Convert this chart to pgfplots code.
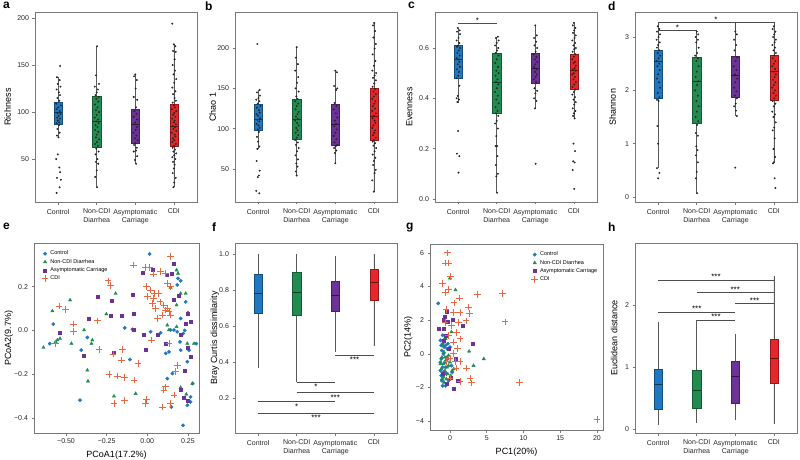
\documentclass[border=0pt]{standalone}
\usepackage{fontspec}
\setmainfont{Liberation Sans}
\usepackage{pgfplots}
\pgfplotsset{compat=1.18}
\usepgfplotslibrary{statistics}
\definecolor{cblue}{RGB}{31,120,193}
\definecolor{cgreen}{RGB}{32,140,80}
\definecolor{cpurple}{RGB}{108,50,150}
\definecolor{cred}{RGB}{230,38,40}
\definecolor{corange}{RGB}{230,105,65}
\definecolor{cfgray}{RGB}{120,120,120}

\tikzset{sig/.style={draw=black!70, line width=0.6pt}}
\pgfplotsset{
  panel/.style={
    scale only axis, anchor=north west,
    axis line style={cfgray, line width=0.7pt},
    tick style={cfgray, line width=0.6pt},
    major tick length=2.5pt,
    tick align=outside,
    xtick pos=left, ytick pos=left,
    ticklabel style={font=\fontsize{7}{8.5}\selectfont, text=black!85},
    label style={font=\fontsize{9}{10}\selectfont},
    clip=false,
  },
  ylab/.style={ylabel style={at={(axis description cs:#1,0.5)}, anchor=south, rotate=0}},
  boxpanel/.style={panel, width=162pt, height=190pt, xmin=0.4, xmax=4.6,
    xtick={1,2,3,4},
    xticklabels={Control, Non-CDI\\Diarrhea, Asymptomatic\\Carriage, CDI},
    xticklabel style={align=center, anchor=north, yshift=-1pt},
    boxplot/draw direction=y,
    boxplot/box extend=0.21,
    boxplot/whisker extend=0,
  },
  cbox/.style={draw=#1!65!black, line width=0.5pt, fill=#1,
    boxplot/every median/.style={draw=#1!45!black, line width=0.9pt},
    boxplot/every whisker/.style={draw=black!65, line width=0.6pt}},
  dots/.style={only marks, mark=*, mark size=0.75pt, color=black!85},
  pctrl/.style={only marks, mark=*, mark size=1.7pt, color=cblue},
  pnon/.style={only marks, mark=triangle*, mark size=1.9pt, color=cgreen},
  pasy/.style={only marks, mark=square*, mark size=1.5pt, color=cpurple},
  pcdi/.style={only marks, mark=+, mark size=3.3pt, color=corange, line width=0.85pt},
}
\newcommand{\bp}[7]{\addplot[cbox=#1, boxplot prepared={draw position=#2, lower whisker=#3, lower quartile=#4, median=#5, upper quartile=#6, upper whisker=#7}] coordinates {};}
\newcommand{\plab}[3]{\node[anchor=north west, inner sep=0pt, font=\bfseries\fontsize{12}{12}\selectfont] at (#1pt,#2pt) {#3};}

\begin{document}
\begin{tikzpicture}
\path[use as bounding box] (0pt,0pt) rectangle (800pt,459pt);

% ---------------- a
\begin{axis}[boxpanel, at={(35pt,447pt)}, ymin=4.3, ymax=206.4,
  ytick={50,100,150,200}, yticklabels={50,100,150,200}, ylabel={Richness}, ylab=-0.127]
\bp{cblue}{1}{72}{87}{100}{110}{137}
\bp{cgreen}{2}{20}{63}{90}{117}{170}
\bp{cpurple}{3}{45}{67}{87}{103}{140}
\bp{cred}{4}{20}{64}{85}{108}{172}
\addplot[dots] coordinates {
(1.05,149)(0.97,137)(1.04,134)(0.99,130)(1.06,127)(0.96,124)(1.02,121)(1.05,118)(0.98,115)(1.03,112)(0.95,109)(1.07,107)(1.00,105)(0.96,103)(1.04,101)(0.98,99)(1.06,98)(1.01,96)(0.97,94)(1.05,93)(0.99,91)(1.03,89)(0.96,88)(1.02,86)(0.98,82)(1.04,78)(0.97,75)(1.01,73)(0.99,55)(0.95,50)(1.03,41)(1.05,36)(0.97,30)(1.07,28)(1.04,20)(0.96,14)
(2.01,170)(1.98,139)(2.06,130)(1.95,127)(2.03,124)(2.00,121)(1.97,118)(2.05,116)(1.99,114)(2.04,111)(1.96,108)(2.02,105)(1.98,102)(2.06,100)(2.00,97)(1.95,94)(2.03,92)(1.99,90)(2.05,88)(1.97,86)(2.02,84)(1.96,81)(2.04,79)(2.00,76)(1.98,73)(2.06,71)(2.01,68)(1.96,66)(2.03,64)(1.99,61)(2.05,58)(1.97,55)(2.02,50)(1.98,47)(2.04,45)(2.00,38)(1.96,31)(2.01,20)
(3.00,140)(2.97,138)(3.04,134)(3.01,125)(2.96,116)(3.05,113)(3.02,105)(2.98,101)(3.03,98)(2.96,95)(3.05,92)(3.00,89)(2.97,87)(3.04,84)(3.01,81)(2.95,78)(3.03,75)(2.99,72)(3.06,70)(3.00,67)(2.97,65)(3.04,62)(3.02,59)(2.96,58)(3.05,53)(2.99,49)(3.02,45)
(3.96,194)(4.00,172)(4.04,170)(3.98,165)(4.05,164)(4.02,156)(3.97,150)(4.03,144)(3.99,140)(4.06,135)(4.01,131)(3.96,126)(4.04,122)(3.98,119)(4.02,115)(4.05,112)(3.97,110)(4.00,107)(4.03,105)(3.95,103)(4.06,101)(4.01,99)(3.98,97)(4.04,95)(3.96,93)(4.02,91)(4.00,89)(4.05,87)(3.97,85)(4.03,84)(3.99,82)(4.06,80)(3.95,78)(4.02,76)(4.04,74)(3.98,72)(4.01,70)(3.96,68)(4.05,66)(4.00,64)(3.97,62)(4.03,60)(3.99,58)(4.06,56)(4.01,54)(3.96,52)(4.04,50)(3.98,47)(4.02,44)(4.00,40)(3.97,35)(4.05,30)(4.01,25)(3.99,20)
};
\end{axis}

% ---------------- b
\begin{axis}[boxpanel, at={(235pt,447pt)}, ymin=9.2, ymax=244.6,
  ytick={50,100,150,200}, yticklabels={50,100,150,200}, ylabel={Chao 1}, ylab=-0.096]
\bp{cblue}{1}{75}{98}{112}{130}{148}
\bp{cgreen}{2}{42}{87}{112}{137}{201}
\bp{cpurple}{3}{57}{79}{105}{130}{172}
\bp{cred}{4}{22}{86}{115}{150}{231}
\addplot[dots] coordinates {
(0.98,205)(1.04,148)(0.97,145)(1.05,141)(1.01,138)(0.95,136)(1.03,134)(0.99,131)(1.06,128)(0.97,126)(1.02,123)(1.04,120)(0.96,118)(1.00,116)(1.05,113)(0.98,111)(1.03,109)(0.96,106)(1.01,104)(1.04,101)(0.99,99)(1.02,96)(0.97,90)(1.00,84)(1.03,78)(0.98,75)(0.96,60)(1.04,48)(1.02,42)(0.99,40)(0.95,23)(1.03,20)
(2.00,201)(1.98,188)(2.03,180)(1.96,172)(2.04,164)(2.01,157)(1.97,150)(2.05,146)(1.99,140)(2.02,137)(1.96,134)(2.04,131)(2.00,128)(1.97,124)(2.05,121)(2.02,118)(1.98,115)(2.03,112)(1.96,110)(2.01,107)(2.05,104)(1.99,101)(2.02,98)(1.97,95)(2.04,92)(2.00,89)(1.96,86)(2.03,83)(1.98,80)(2.05,76)(2.01,72)(1.97,67)(2.03,62)(1.99,57)(2.02,53)(1.98,47)(2.00,42)
(3.00,172)(3.04,170)(2.97,153)(3.05,150)(3.02,148)(2.98,132)(3.03,128)(2.96,124)(3.01,119)(3.05,114)(2.99,110)(3.02,106)(2.97,103)(3.04,99)(3.00,95)(2.96,91)(3.03,87)(2.98,83)(3.05,80)(3.01,78)(2.97,76)(3.03,73)(2.99,70)(3.00,57)
(4.01,231)(3.98,228)(4.03,221)(3.99,213)(4.05,205)(4.02,199)(3.97,192)(4.04,184)(4.00,178)(3.96,172)(4.06,169)(4.02,166)(3.98,163)(4.05,160)(4.01,156)(3.97,152)(4.03,149)(3.99,146)(4.05,143)(4.00,140)(3.96,137)(4.04,134)(4.01,131)(3.98,128)(4.03,125)(3.96,122)(4.05,119)(4.00,116)(3.97,113)(4.02,110)(4.04,107)(3.99,104)(3.96,101)(4.03,98)(4.01,95)(3.98,92)(4.05,89)(4.00,86)(3.97,84)(4.03,82)(3.99,79)(4.06,76)(4.02,72)(3.97,68)(4.04,64)(4.00,60)(3.98,55)(4.05,49)(4.02,45)(3.96,36)(4.00,22)
};
\end{axis}

% ---------------- c
\begin{axis}[boxpanel, at={(435pt,447pt)}, ymin=-0.012, ymax=0.743,
  ytick={0,0.2,0.4,0.6}, yticklabels={0.0,0.2,0.4,0.6}, ylabel={Evenness}, ylab=-0.117]
\bp{cblue}{1}{0.38}{0.48}{0.555}{0.61}{0.68}
\bp{cgreen}{2}{0.025}{0.34}{0.465}{0.58}{0.645}
\bp{cpurple}{3}{0.36}{0.46}{0.52}{0.58}{0.69}
\bp{cred}{4}{0.32}{0.435}{0.51}{0.575}{0.70}
\addplot[dots] coordinates {
(0.99,0.68)(1.04,0.67)(0.97,0.665)(1.05,0.655)(1.01,0.64)(0.96,0.63)(1.03,0.62)(1.00,0.61)(0.97,0.605)(1.05,0.60)(1.02,0.59)(0.98,0.58)(1.04,0.57)(0.96,0.56)(1.01,0.555)(1.03,0.545)(0.99,0.535)(1.05,0.525)(0.97,0.515)(1.02,0.505)(1.00,0.49)(0.96,0.48)(1.03,0.45)(0.99,0.41)(0.96,0.40)(1.02,0.395)(0.98,0.385)(1.00,0.27)(0.97,0.18)(1.03,0.17)(1.01,0.105)
(2.03,0.645)(1.98,0.64)(2.05,0.63)(2.00,0.62)(1.96,0.61)(2.04,0.60)(2.01,0.59)(1.97,0.58)(2.05,0.57)(2.00,0.555)(1.96,0.54)(2.03,0.525)(1.99,0.51)(2.05,0.50)(1.97,0.49)(2.02,0.475)(1.98,0.465)(2.04,0.455)(2.00,0.44)(1.96,0.425)(2.03,0.41)(1.99,0.395)(2.05,0.38)(1.97,0.365)(2.02,0.35)(1.98,0.34)(2.04,0.33)(2.00,0.31)(1.96,0.30)(2.03,0.28)(1.99,0.25)(2.01,0.21)(1.97,0.21)(2.02,0.17)(1.98,0.135)(2.03,0.10)(1.99,0.09)(2.01,0.025)
(3.00,0.69)(3.04,0.65)(2.97,0.64)(3.02,0.625)(2.98,0.61)(3.05,0.60)(3.01,0.585)(2.96,0.575)(3.03,0.565)(2.99,0.555)(3.05,0.545)(3.00,0.535)(2.97,0.525)(3.03,0.515)(2.99,0.505)(3.04,0.495)(3.01,0.485)(2.96,0.475)(3.02,0.465)(2.98,0.44)(3.05,0.43)(3.00,0.42)(2.97,0.40)(3.03,0.39)(2.99,0.36)(3.01,0.14)
(4.00,0.70)(3.97,0.69)(4.04,0.68)(4.01,0.67)(3.98,0.66)(4.05,0.65)(4.02,0.64)(3.96,0.63)(4.03,0.62)(3.99,0.61)(4.05,0.60)(4.01,0.595)(3.97,0.585)(4.04,0.575)(4.00,0.565)(3.96,0.555)(4.03,0.545)(3.99,0.54)(4.05,0.53)(4.02,0.52)(3.98,0.515)(4.04,0.51)(4.00,0.50)(3.96,0.495)(4.03,0.485)(3.99,0.475)(4.05,0.465)(4.01,0.455)(3.97,0.445)(4.04,0.435)(4.00,0.425)(3.96,0.415)(4.03,0.405)(3.99,0.395)(4.05,0.385)(4.01,0.375)(3.97,0.36)(4.04,0.35)(4.00,0.34)(3.98,0.33)(4.02,0.32)(3.99,0.22)(4.03,0.19)(3.98,0.15)(4.02,0.145)(3.97,0.115)(4.01,0.04)
};
\draw[sig] (axis cs:1,0.698) -- (axis cs:2,0.698);
\node[anchor=south, inner sep=0pt, font=\fontsize{8}{8}\selectfont] at (axis cs:1.5,0.698) {*};
\end{axis}

% ---------------- d
\begin{axis}[boxpanel, at={(635pt,447pt)}, ymin=-0.094, ymax=3.469,
  ytick={0,1,2,3}, yticklabels={0,1,2,3}, ylabel={Shannon}, ylab=-0.096]
\bp{cblue}{1}{0.54}{1.85}{2.55}{2.75}{3.2}
\bp{cgreen}{2}{0.07}{1.38}{2.17}{2.62}{3.1}
\bp{cpurple}{3}{1.52}{1.87}{2.27}{2.63}{3.1}
\bp{cred}{4}{0.63}{1.82}{2.35}{2.65}{3.2}
\addplot[dots] coordinates {
(0.99,3.2)(1.03,3.15)(0.97,3.1)(1.05,3.05)(1.01,3.0)(0.96,2.95)(1.04,2.9)(1.00,2.85)(0.97,2.8)(1.03,2.75)(0.99,2.7)(1.05,2.65)(1.01,2.6)(0.96,2.55)(1.03,2.5)(0.98,2.45)(1.04,2.38)(1.00,2.3)(0.97,2.22)(1.02,2.15)(1.05,2.05)(0.99,1.95)(1.03,1.87)(0.97,1.82)(1.01,1.8)(0.98,1.33)(1.00,1.0)(0.97,0.54)(1.03,0.45)(1.00,0.35)
(2.00,3.1)(2.04,3.05)(1.97,3.0)(2.03,2.95)(1.99,2.9)(2.05,2.8)(2.01,2.7)(1.96,2.65)(2.03,2.6)(1.99,2.55)(2.05,2.45)(2.00,2.35)(1.97,2.25)(2.04,2.17)(2.01,2.1)(1.96,2.0)(2.03,1.9)(1.99,1.8)(2.05,1.7)(2.00,1.6)(1.97,1.5)(2.04,1.42)(2.01,1.35)(1.98,1.2)(2.03,1.15)(1.99,0.95)(2.02,0.88)(1.98,0.78)(2.03,0.65)(2.00,0.47)(1.98,0.35)(2.01,0.07)
(3.00,3.1)(3.04,3.05)(2.97,2.95)(3.02,2.85)(2.98,2.75)(3.05,2.62)(3.01,2.55)(2.96,2.45)(3.03,2.38)(2.99,2.3)(3.05,2.22)(3.00,2.15)(2.97,2.05)(3.03,1.98)(2.99,1.9)(3.04,1.85)(3.01,1.75)(2.97,1.7)(3.02,1.62)(3.04,1.52)(3.00,0.55)
(4.00,3.2)(3.97,3.15)(4.04,3.1)(4.01,3.05)(3.98,3.0)(4.05,2.95)(4.02,2.9)(3.96,2.85)(4.03,2.8)(3.99,2.75)(4.05,2.7)(4.01,2.65)(3.97,2.6)(4.04,2.55)(4.00,2.5)(3.96,2.45)(4.03,2.4)(3.99,2.35)(4.05,2.3)(4.02,2.25)(3.98,2.2)(4.04,2.15)(4.00,2.1)(3.96,2.05)(4.03,2.0)(3.99,1.95)(4.05,1.9)(4.01,1.85)(3.97,1.8)(4.04,1.75)(4.00,1.7)(3.96,1.6)(4.03,1.55)(3.99,1.5)(4.05,1.4)(4.01,1.3)(3.97,1.25)(4.02,1.1)(3.99,0.9)(4.03,0.75)(4.00,0.65)(3.98,0.63)(4.02,0.35)(4.04,0.17)
};
\draw[sig] (axis cs:1,3.05) -- (axis cs:1,3.12) -- (axis cs:2,3.12) -- (axis cs:2,3.05);
\draw[sig] (axis cs:1,3.2) -- (axis cs:1,3.27) -- (axis cs:4,3.27) -- (axis cs:4,3.2);
\draw[sig] (axis cs:3,3.1) -- (axis cs:3,3.27);
\node[anchor=south, inner sep=0pt, font=\fontsize{8}{8}\selectfont] at (axis cs:1.5,3.12) {*};
\node[anchor=south, inner sep=0pt, font=\fontsize{8}{8}\selectfont] at (axis cs:2.5,3.27) {*};
\end{axis}

% ---------------- e
\begin{axis}[panel, at={(34pt,216pt)}, width=165pt, height=190pt,
  xmin=-0.697, xmax=0.318, ymin=-0.469, ymax=0.40,
  xtick={-0.5,-0.25,0,0.25}, xticklabels={−0.50,−0.25,0.00,0.25},
  ytick={-0.4,-0.2,0,0.2}, yticklabels={−0.4,−0.2,0.0,0.2},
  xlabel={PCoA1(17.2\%)}, ylabel={PCoA2(9.7\%)}, ylab=-0.106,
  legend style={at={(0.04,0.975)}, anchor=north west, draw=none, fill=none,
    font=\fontsize{5.5}{6.5}\selectfont, row sep=-1.2pt, inner sep=1pt},
  legend cell align=left]
\addplot[pctrl] coordinates {
(0.014,0.350)(-0.578,0.029)(-0.600,-0.060)(-0.406,-0.090)(-0.369,-0.032)(-0.414,-0.319)(-0.139,0.012)(-0.092,0.005)(0.020,-0.006)(-0.107,-0.133)(0.184,0.208)(0.189,0.238)(0.205,0.227)(0.236,0.131)(0.250,0.081)(0.205,0.055)(0.164,0.002)(0.184,-0.006)(0.221,-0.014)(0.201,-0.052)(0.256,-0.090)(0.301,-0.060)(0.205,-0.090)(0.246,-0.143)(0.113,-0.105)(0.133,-0.098)(0.154,-0.197)(0.123,-0.220)(0.148,-0.350)(0.219,-0.434)(0.246,-0.342)(0.266,-0.327)(0.279,-0.243)(0.266,-0.304)(0.143,0.002)(0.230,0.000)(0.082,-0.011)
};
\addlegendentry{Control}
\addplot[pnon] coordinates {
(-0.475,0.139)(-0.584,0.089)(-0.639,-0.078)(-0.553,-0.044)(-0.564,-0.052)(-0.537,-0.037)(-0.467,-0.060)(-0.389,0.002)(-0.338,-0.044)(-0.344,-0.060)(-0.252,0.075)(-0.195,0.169)(-0.369,-0.182)(-0.365,-0.232)(-0.205,-0.301)(-0.072,-0.289)(0.180,0.276)(0.189,0.261)(0.143,0.197)(0.205,0.169)(0.236,0.169)(0.180,0.116)(0.123,0.024)(0.133,0.002)(0.180,0.017)(0.246,-0.060)(0.287,-0.060)(0.205,-0.261)(0.240,-0.292)(0.277,-0.243)
};
\addlegendentry{Non-CDI Diarrhea}
\addplot[pasy] coordinates {
(-0.537,-0.011)(-0.389,-0.115)(-0.303,0.154)(-0.359,0.055)(-0.225,0.066)(-0.221,0.136)(-0.158,0.066)(-0.090,0.162)(-0.082,0.078)(-0.082,0.002)(-0.025,-0.021)(-0.010,-0.090)(-0.209,-0.102)(-0.031,0.264)(0.061,-0.021)(0.164,0.307)(0.119,0.253)(0.148,0.261)(0.164,0.139)(0.191,0.157)(0.246,0.078)(0.266,0.040)(0.236,0.032)(0.205,-0.021)(0.250,-0.078)(0.266,-0.118)(0.230,-0.185)(0.221,-0.307)(0.246,-0.319)(0.205,-0.273)(0.113,-0.060)(0.035,0.276)
};
\addlegendentry{Asymptomatic Carriage}
\addplot[pcdi] coordinates {
(0.143,0.337)(-0.086,0.299)(-0.010,0.289)(0.016,0.289)(0.037,0.258)(0.082,0.269)(0.113,0.261)(-0.242,0.227)(-0.225,0.206)(-0.543,0.111)(-0.502,0.096)(-0.455,0.029)(-0.455,-0.006)(-0.564,-0.060)(-0.307,0.044)(-0.297,-0.087)(-0.211,-0.108)(-0.154,-0.087)(-0.160,-0.136)(-0.057,-0.151)(-0.236,-0.202)(-0.184,-0.209)(-0.139,-0.215)(-0.082,-0.227)(-0.205,-0.334)(-0.139,-0.319)(-0.004,-0.316)(-0.010,-0.334)(0.025,-0.044)(-0.004,0.200)(0.020,0.185)(0.045,0.169)(0.000,0.154)(0.037,0.147)(0.068,0.169)(0.078,0.131)(0.102,0.116)(0.123,0.101)(0.133,0.085)(0.143,0.070)(0.092,0.070)(0.113,0.093)(0.143,0.200)(0.123,0.215)(0.061,0.055)(0.031,0.124)(0.051,0.101)(0.133,-0.060)(0.184,-0.159)(0.174,-0.189)(0.102,-0.273)(0.113,-0.258)(0.164,-0.296)(0.092,-0.350)(0.143,-0.334)
};
\addlegendentry{CDI}
\end{axis}

% ---------------- f
\begin{axis}[boxpanel, at={(235pt,216pt)}, ymin=0.006, ymax=1.061,
  ytick={0.2,0.4,0.6,0.8,1.0}, yticklabels={0.2,0.4,0.6,0.8,1.0}, ylabel={Bray Curtis dissimilarity}, ylab=-0.077]
\bp{cblue}{1}{0.367}{0.671}{0.779}{0.888}{1.0}
\bp{cgreen}{2}{0.289}{0.658}{0.788}{0.9}{1.0}
\bp{cpurple}{3}{0.457}{0.684}{0.769}{0.851}{0.987}
\bp{cred}{4}{0.49}{0.741}{0.844}{0.916}{1.0}
\draw[sig] (axis cs:3,0.438) -- (axis cs:4,0.438);
\draw[sig] (axis cs:2,0.289) -- (axis cs:3,0.289);
\draw[sig] (axis cs:2,0.230) -- (axis cs:4,0.230);
\draw[sig] (axis cs:1,0.181) -- (axis cs:3,0.181);
\draw[sig] (axis cs:1,0.118) -- (axis cs:4,0.118);
\begin{scope}[every node/.style={anchor=north, inner sep=0pt, yshift=-2pt, font=\fontsize{8}{8}\selectfont}]
\node at (axis cs:3.5,0.438) {***};
\node at (axis cs:2.5,0.289) {*};
\node at (axis cs:3,0.230) {***};
\node at (axis cs:2,0.181) {*};
\node at (axis cs:2.5,0.118) {***};
\end{scope}
\end{axis}

% ---------------- g
\begin{axis}[panel, at={(430pt,215pt)}, width=173pt, height=186pt,
  xmin=-2.72, xmax=20.82, ymin=-4.53, ymax=6.53,
  xtick={0,5,10,15,20}, xticklabels={0,5,10,15,20},
  ytick={-4,-2,0,2,4,6}, yticklabels={−4,−2,0,2,4,6},
  xlabel={PC1(20\%)}, ylabel={PC2(14\%)}, ylab=-0.081,
  legend style={at={(0.985,0.975)}, anchor=north east, draw=none, fill=none,
    font=\fontsize{5.5}{6.5}\selectfont, row sep=-1.2pt, inner sep=1pt},
  legend cell align=left]
\addplot[pctrl] coordinates {
(-1.6,3.0)(-1.3,0.8)(-1.0,0.6)(-0.8,0.4)(-1.1,0.2)(-0.6,0.5)(-0.9,0.0)(-1.2,-0.3)(-0.7,-0.5)(-1.0,-0.8)(-1.3,-1.0)(-0.5,-1.2)(-0.9,-1.4)(-1.1,-1.6)(-0.6,-1.9)(-1.2,-1.3)(-0.4,0.3)(0.0,0.4)(-0.3,-0.3)(0.2,-0.7)(-0.8,-1.1)(-0.3,0.6)(-1.0,1.1)(-1.3,-0.5)(-0.6,-0.8)(-0.2,-1.6)(-1.0,-1.9)(0.3,-1.1)(-0.7,0.9)(-1.2,0.5)
};
\addlegendentry{Control}
\addplot[pnon] coordinates {
(0.0,4.5)(0.75,3.8)(2.6,0.15)(4.6,-0.3)(3.2,-0.7)(0.2,1.3)(-1.0,0.5)(-0.8,0.1)(-1.1,-0.2)(-0.6,-0.4)(-0.9,-0.6)(-0.4,-0.8)(-1.2,-0.9)(-0.7,-1.0)(-0.3,-1.2)(-1.0,-1.3)(-0.5,-1.5)(-0.8,-1.7)(0.0,-0.5)(0.3,-1.0)(-0.2,-0.1)(-1.3,-0.6)(0.5,-0.9)(-0.6,0.9)(-0.9,-1.1)(-0.4,-0.2)(-1.1,-1.5)(0.1,-1.3)(-0.7,-0.2)(-0.2,-0.7)
};
\addlegendentry{Non-CDI Diarrhea}
\addplot[pasy] coordinates {
(-0.9,1.5)(1.7,1.7)(3.1,0.6)(-0.7,2.2)(0.45,-2.1)(1.1,-1.6)(-0.5,2.5)(-0.3,1.9)(-0.2,0.3)(-0.8,0.8)(0.1,-1.4)(-0.4,-1.8)(0.4,2.0)(-0.6,1.1)(-1.0,-1.2)(0.8,-0.3)(-1.5,1.5)(-0.9,2.0)
};
\addlegendentry{Asymptomatic Carriage}
\addplot[pcdi] coordinates {
(-0.36,6.0)(-0.68,5.4)(-0.23,5.4)(-1.0,4.19)(0.09,4.58)(-0.68,3.65)(-0.23,3.81)(1.27,3.32)(3.77,3.51)(7.18,3.57)(7.5,1.9)(2.5,2.78)(2.64,2.41)(2.18,1.96)(1.36,2.45)(0.55,3.03)(0.45,2.45)(1.14,1.86)(0.23,1.67)(0.91,1.28)(1.36,0.89)(0.45,0.70)(1.0,0.31)(1.36,-0.47)(2.27,-0.85)(2.73,-1.44)(2.95,-1.73)(1.36,-1.63)(0.82,-0.85)(0.0,-1.44)(-0.45,-0.47)(-0.55,2.64)(-0.68,1.86)(-0.23,1.09)(0.45,0.02)(0.0,-0.27)(0.68,-0.47)(9.45,-1.69)(20.0,-3.92)
};
\addlegendentry{CDI}
\end{axis}

% ---------------- h
\begin{axis}[boxpanel, at={(635pt,216pt)}, ymin=-0.065, ymax=3.0,
  ytick={0,1,2}, yticklabels={0,1,2}, ylabel={Euclidean distance}, ylab=-0.086]
\bp{cblue}{1}{0.07}{0.32}{0.72}{0.97}{1.73}
\bp{cgreen}{2}{0.10}{0.34}{0.62}{0.94}{1.76}
\bp{cpurple}{3}{0.14}{0.42}{0.85}{1.09}{1.54}
\bp{cred}{4}{0.08}{0.74}{1.13}{1.44}{2.47}
\draw[sig] (axis cs:1,2.40) -- (axis cs:4,2.40);
\draw[sig] (axis cs:2,2.20) -- (axis cs:4,2.20);
\draw[sig] (axis cs:3,2.02) -- (axis cs:4,2.02);
\draw[sig] (axis cs:1,1.89) -- (axis cs:3,1.89);
\draw[sig] (axis cs:2,1.76) -- (axis cs:3,1.76);
\begin{scope}[every node/.style={anchor=south, inner sep=0pt, font=\fontsize{8}{8}\selectfont}]
\node at (axis cs:2.5,2.40) {***};
\node at (axis cs:3,2.20) {***};
\node at (axis cs:3.5,2.02) {***};
\node at (axis cs:2,1.89) {***};
\node at (axis cs:2.5,1.76) {***};
\end{scope}
\end{axis}

\plab{3}{457}{a}
\plab{205}{457}{b}
\plab{408}{457}{c}
\plab{608}{457}{d}
\plab{3}{236}{e}
\plab{212}{236}{f}
\plab{406}{236}{g}
\plab{608}{236}{h}
\end{tikzpicture}
\end{document}
